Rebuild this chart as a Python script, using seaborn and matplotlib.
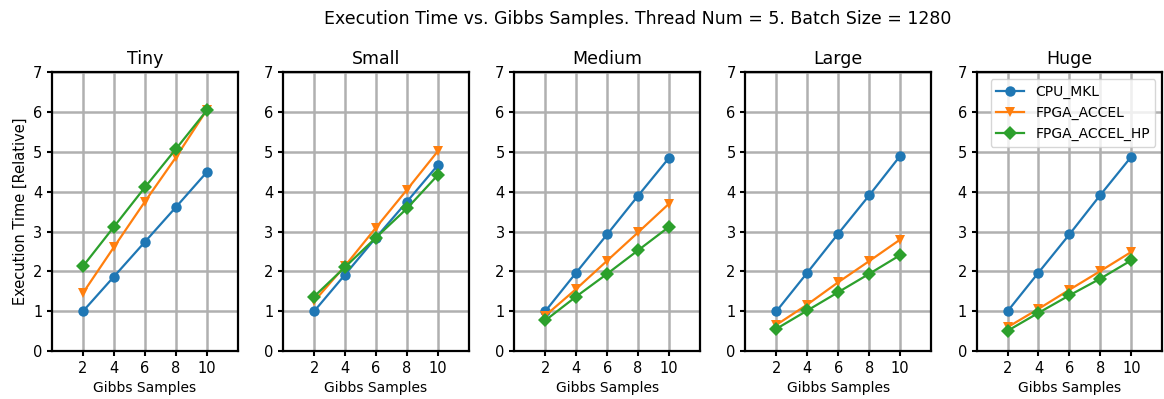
import pandas as pd
import matplotlib
matplotlib.use("Agg")
import matplotlib.pyplot as plt
import seaborn as sns

samples = [2, 4, 6, 8, 10]
models = ["Tiny", "Small", "Medium", "Large", "Huge"]
series_names = ["CPU_MKL", "FPGA_ACCEL", "FPGA_ACCEL_HP"]

cpu_mkl = {
    "Tiny":   [1.00, 1.87, 2.74, 3.61, 4.49],
    "Small":  [1.00, 1.92, 2.85, 3.75, 4.67],
    "Medium": [1.00, 1.97, 2.93, 3.90, 4.85],
    "Large":  [1.00, 1.97, 2.95, 3.91, 4.90],
    "Huge":   [1.00, 1.97, 2.93, 3.92, 4.88],
}
fpga_accel = {
    "Tiny":   [1.46, 2.61, 3.75, 4.86, 6.05],
    "Small":  [1.25, 2.14, 3.10, 4.05, 5.02],
    "Medium": [0.89, 1.56, 2.27, 2.98, 3.70],
    "Large":  [0.66, 1.17, 1.73, 2.26, 2.80],
    "Huge":   [0.60, 1.06, 1.54, 2.01, 2.49],
}
fpga_accel_hp = {
    "Tiny":   [2.13, 3.12, 4.11, 5.07, 6.04],
    "Small":  [1.37, 2.11, 2.85, 3.58, 4.42],
    "Medium": [0.77, 1.37, 1.94, 2.53, 3.12],
    "Large":  [0.56, 1.02, 1.48, 1.94, 2.41],
    "Huge":   [0.51, 0.96, 1.40, 1.82, 2.28],
}

rows = []
for name, table in zip(series_names, [cpu_mkl, fpga_accel, fpga_accel_hp]):
    for m in models:
        for s, v in zip(samples, table[m]):
            rows.append({"Model": m, "Series": name, "Gibbs Samples": s, "Time": v})
df = pd.DataFrame(rows)

markers = {"CPU_MKL": "o", "FPGA_ACCEL": "v", "FPGA_ACCEL_HP": "D"}
colors = {"CPU_MKL": "#1f77b4", "FPGA_ACCEL": "#ff7f0e", "FPGA_ACCEL_HP": "#2ca02c"}

fig, axes = plt.subplots(1, 5, figsize=(11.64, 3.99), dpi=100)
fig.subplots_adjust(left=0.0447, right=0.9985, top=0.819, bottom=0.12, wspace=0.245)

for ax, m in zip(axes, models):
    sub = df[df["Model"] == m]
    for name in series_names:
        d = sub[sub["Series"] == name]
        sns.lineplot(data=d, x="Gibbs Samples", y="Time", ax=ax, color=colors[name],
                     marker=markers[name], markersize=7.5, markeredgewidth=0,
                     linewidth=1.6, label=name)
    ax.set_xlim(0, 12)
    ax.set_ylim(0, 7)
    ax.set_xticks(samples)
    ax.set_yticks(range(0, 8))
    ax.grid(True, color="#b0b0b0", linewidth=1.8)
    ax.set_title(m, fontsize=12.5)
    ax.set_xlabel("Gibbs Samples", fontsize=10)
    ax.set_ylabel("")
    ax.tick_params(labelsize=10.5, width=1.5)
    for sp in ax.spines.values():
        sp.set_linewidth(1.6)
    if m != "Huge":
        ax.get_legend().remove()

axes[0].set_ylabel("Execution Time [Relative]", fontsize=10.5)
axes[-1].legend(loc="upper right", fontsize=10)

fig.suptitle("Execution Time vs. Gibbs Samples. Thread Num = 5. Batch Size = 1280",
             fontsize=12.5, x=0.548, y=0.975)

plt.savefig("out.png", dpi=100)
